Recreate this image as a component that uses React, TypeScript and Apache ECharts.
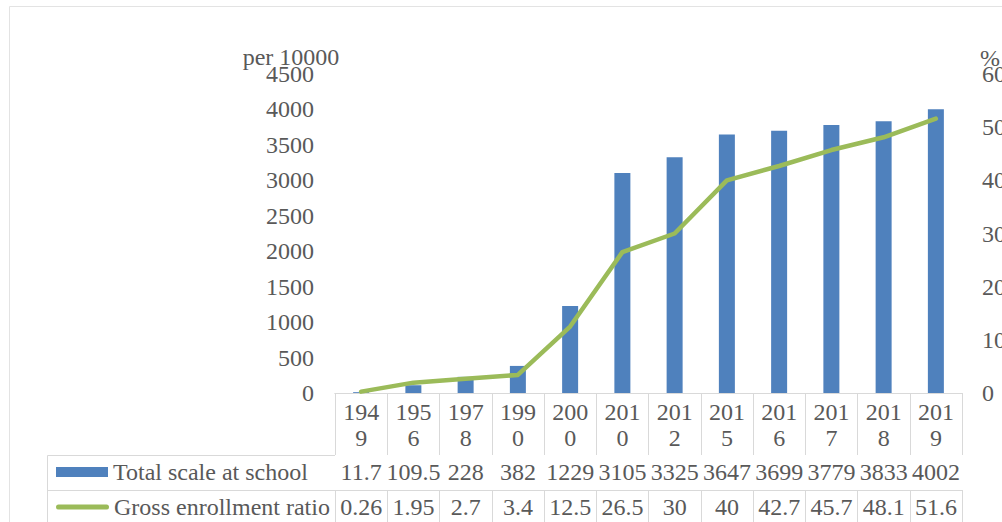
import React, { useEffect, useRef } from 'react';
import * as echarts from 'echarts';

const years = ['1949', '1956', '1978', '1990', '2000', '2010', '2012', '2015', '2016', '2017', '2018', '2019'];
const totalScale = [11.7, 109.5, 228, 382, 1229, 3105, 3325, 3647, 3699, 3779, 3833, 4002];
const grossRatio = [0.26, 1.95, 2.7, 3.4, 12.5, 26.5, 30, 40, 42.7, 45.7, 48.1, 51.6];
const seriesNames = ['Total scale at school', 'Gross enrollment ratio'];
const leftAxis = { min: 0, max: 4500, interval: 500, name: 'per 10000' };
const rightAxis = { min: 0, max: 60, interval: 10, name: '%' };

const FONT = 'Liberation Serif';
const TEXT = '#595959';
const GRID_LINE = '#d9d9d9';
const BAR = '#4F81BD';
const LINE = '#9BBB59';
const FS = 24;

export default function App() {
  const ref = useRef<HTMLDivElement>(null);
  useEffect(() => {
    if (!ref.current) return;
    const chart = echarts.init(ref.current, undefined, { renderer: 'svg' });
    const labelBase = { fontFamily: FONT, fontSize: FS, color: TEXT };
    const tableAxis = (data: string[], offset: number, tickLen: number, margin: number) => ({
      type: 'category',
      gridIndex: 0,
      position: 'bottom',
      offset,
      data,
      boundaryGap: true,
      axisLine: { show: true, lineStyle: { color: GRID_LINE, width: 1 } },
      axisTick: { show: true, length: tickLen, interval: 0, alignWithLabel: false, lineStyle: { color: GRID_LINE, width: 1 } },
      axisLabel: { ...labelBase, interval: 0, margin, lineHeight: 26 },
      splitLine: { show: false },
    });
    const option: any = {
      animation: false,
      backgroundColor: '#ffffff',
      grid: { left: 335, right: 40, top: 74, bottom: 129, containLabel: false, outerBoundsMode: 'none' },
      legend: [
        {
          data: [{ name: seriesNames[0], icon: 'rect' }],
          left: 56, top: 459, itemWidth: 52, itemHeight: 10, padding: 0,
          selectedMode: false,
          textStyle: { ...labelBase, lineHeight: 26 },
        },
        {
          data: [{
            name: seriesNames[1],
            icon: 'path://M2.5,0 L50.5,0 A2.5,2.5 0 0 1 50.5,5 L2.5,5 A2.5,2.5 0 0 1 2.5,0 Z',
            itemStyle: { color: LINE },
          }],
          left: 56, top: 494, itemWidth: 53, itemHeight: 5, padding: 0,
          selectedMode: false,
          textStyle: { ...labelBase, lineHeight: 26 },
        },
      ],
      xAxis: [
        {
          ...tableAxis(years, 0, 62, 6),
          axisLabel: {
            ...labelBase, interval: 0, margin: 6, lineHeight: 26,
            formatter: (v: string) => v.slice(0, 3) + '\n' + v.slice(3),
          },
        },
        tableAxis(totalScale.map(String), 62, 35, 4),
        tableAxis(grossRatio.map(String), 97, 35, 4),
      ],
      yAxis: [
        {
          type: 'value', min: leftAxis.min, max: leftAxis.max, interval: leftAxis.interval,
          axisLine: { show: false }, axisTick: { show: false }, splitLine: { show: false },
          axisLabel: { ...labelBase, margin: 21, formatter: (v: number) => String(v) },
        },
        {
          type: 'value', position: 'right', min: rightAxis.min, max: rightAxis.max, interval: rightAxis.interval,
          axisLine: { show: false }, axisTick: { show: false }, splitLine: { show: false },
          axisLabel: { ...labelBase, margin: 20, formatter: (v: number) => String(v) },
        },
      ],
      series: [
        {
          name: seriesNames[0], type: 'bar', xAxisIndex: 0, yAxisIndex: 0,
          data: totalScale, barWidth: 16, itemStyle: { color: BAR },
        },
        {
          name: seriesNames[1], type: 'line', xAxisIndex: 0, yAxisIndex: 1,
          data: grossRatio, symbol: 'none', showSymbol: false,
          itemStyle: { color: LINE },
          lineStyle: { color: LINE, width: 4.5, cap: 'round', join: 'round' },
        },
      ],
      graphic: [
        { type: 'line', shape: { x1: 9.5, y1: 6.5, x2: 1002, y2: 6.5 }, style: { stroke: '#e3e3e3', lineWidth: 1 } },
        { type: 'line', shape: { x1: 9.5, y1: 6.5, x2: 9.5, y2: 522 }, style: { stroke: '#e3e3e3', lineWidth: 1 } },
        { type: 'line', shape: { x1: 47.5, y1: 455.5, x2: 335, y2: 455.5 }, style: { stroke: GRID_LINE, lineWidth: 1 } },
        { type: 'line', shape: { x1: 47.5, y1: 490.5, x2: 335, y2: 490.5 }, style: { stroke: GRID_LINE, lineWidth: 1 } },
        { type: 'line', shape: { x1: 47.5, y1: 455.5, x2: 47.5, y2: 522 }, style: { stroke: GRID_LINE, lineWidth: 1 } },
        {
          type: 'text', x: 291, y: 57,
          style: { text: leftAxis.name, fill: TEXT, font: `${FS}px "${FONT}"`, align: 'center', verticalAlign: 'middle' },
        },
        {
          type: 'text', x: 980, y: 58,
          style: { text: rightAxis.name, fill: TEXT, font: `${FS}px "${FONT}"`, align: 'left', verticalAlign: 'middle' },
        },
      ],
    };
    chart.setOption(option);
    return () => chart.dispose();
  }, []);
  return (
    <div
      ref={ref}
      style={{ position: 'fixed', left: 0, top: 0, width: 1002, height: 522, background: '#fff' }}
    />
  );
}
